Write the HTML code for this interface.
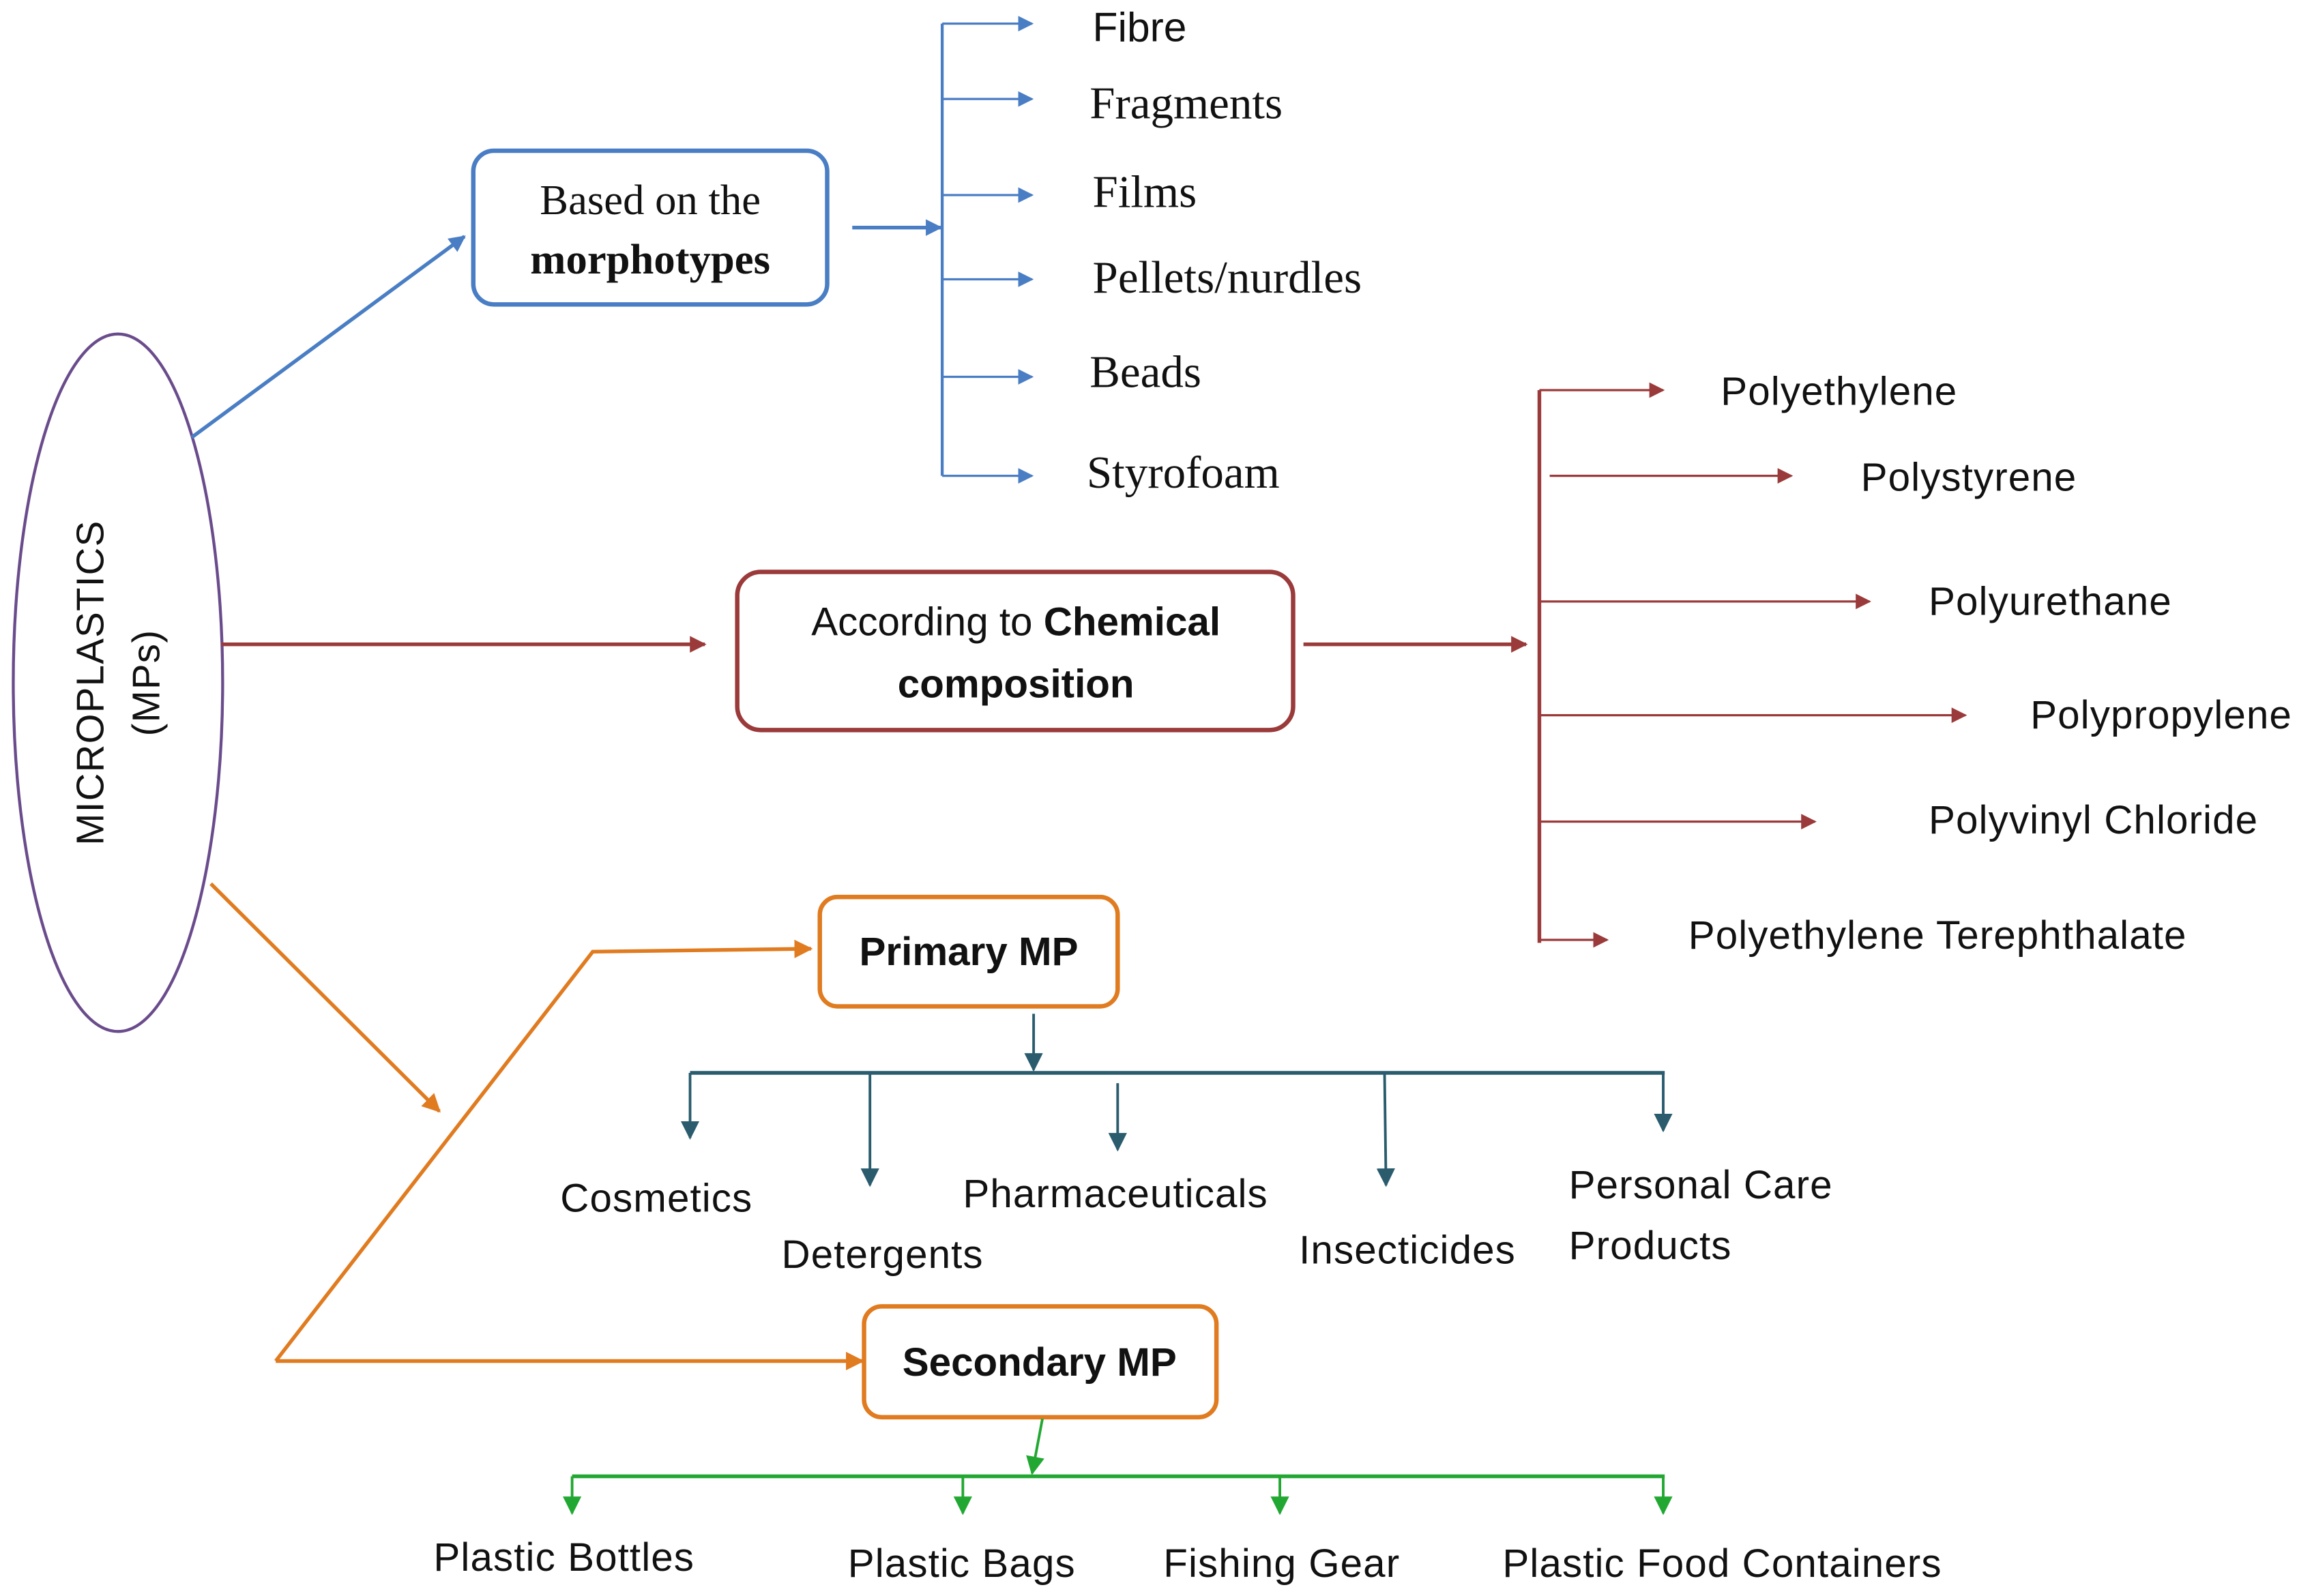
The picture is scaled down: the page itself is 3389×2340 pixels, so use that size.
<!DOCTYPE html>
<html><head><meta charset="utf-8"><style>html,body{margin:0;padding:0;background:#fff}svg{display:block}</style></head>
<body>
<svg width="3389" height="2340" viewBox="0 0 1568 1080" preserveAspectRatio="none" xmlns="http://www.w3.org/2000/svg">
<defs>
<marker id="ab" viewBox="0 0 10 10" refX="9" refY="5" markerWidth="4.5" markerHeight="4.5" orient="auto" markerUnits="strokeWidth"><path d="M0,0L10,5L0,10z" fill="#4a7ec4"/></marker>
<marker id="ab2" viewBox="0 0 10 10" refX="9" refY="5" markerWidth="7" markerHeight="7" orient="auto" markerUnits="strokeWidth"><path d="M0,0L10,5L0,10z" fill="#4a7ec4"/></marker>
<marker id="ar" viewBox="0 0 10 10" refX="9" refY="5" markerWidth="4.5" markerHeight="4.5" orient="auto" markerUnits="strokeWidth"><path d="M0,0L10,5L0,10z" fill="#9b3a3a"/></marker>
<marker id="ar2" viewBox="0 0 10 10" refX="9" refY="5" markerWidth="7" markerHeight="7" orient="auto" markerUnits="strokeWidth"><path d="M0,0L10,5L0,10z" fill="#9b3a3a"/></marker>
<marker id="ao" viewBox="0 0 10 10" refX="9" refY="5" markerWidth="5" markerHeight="5" orient="auto" markerUnits="strokeWidth"><path d="M0,0L10,5L0,10z" fill="#e07b20"/></marker>
<marker id="at" viewBox="0 0 10 10" refX="9" refY="5" markerWidth="7" markerHeight="7" orient="auto" markerUnits="strokeWidth"><path d="M0,0L10,5L0,10z" fill="#2a5c6e"/></marker>
<marker id="ag" viewBox="0 0 10 10" refX="9" refY="5" markerWidth="7" markerHeight="7" orient="auto" markerUnits="strokeWidth"><path d="M0,0L10,5L0,10z" fill="#22a832"/></marker>
</defs>
<g font-family="Liberation Sans, sans-serif" fill="#111">
<ellipse cx="80" cy="462" rx="71" ry="236" fill="none" stroke="#6a4c8c" stroke-width="2"/>
<g letter-spacing="0.6">
<text transform="translate(70,462) rotate(-90)" text-anchor="middle" font-size="26">MICROPLASTICS</text>
<text transform="translate(108,462) rotate(-90)" text-anchor="middle" font-size="26">(MPs)</text>
</g>

<!-- blue -->
<line x1="130" y1="296" x2="315" y2="160" stroke="#4a7ec4" stroke-width="2.5" marker-end="url(#ab)"/>
<rect x="321" y="102" width="240" height="104" rx="14" fill="none" stroke="#4a7ec4" stroke-width="3"/>
<text x="441" y="145" text-anchor="middle" font-family="Liberation Serif, serif" font-size="29">Based on the</text>
<text x="441" y="185" text-anchor="middle" font-family="Liberation Serif, serif" font-size="29" font-weight="bold">morphotypes</text>
<line x1="578" y1="154" x2="638" y2="154" stroke="#4a7ec4" stroke-width="2.5" marker-end="url(#ab)"/>
<line x1="639" y1="16" x2="639" y2="322" stroke="#4a7ec4" stroke-width="2"/>
<g stroke="#4a7ec4" stroke-width="1.5">
<line x1="639" y1="16" x2="700" y2="16" marker-end="url(#ab2)"/>
<line x1="639" y1="67" x2="700" y2="67" marker-end="url(#ab2)"/>
<line x1="639" y1="132" x2="700" y2="132" marker-end="url(#ab2)"/>
<line x1="639" y1="189" x2="700" y2="189" marker-end="url(#ab2)"/>
<line x1="639" y1="255" x2="700" y2="255" marker-end="url(#ab2)"/>
<line x1="639" y1="322" x2="700" y2="322" marker-end="url(#ab2)"/>
</g>
<text x="741" y="28" font-size="28">Fibre</text>
<g font-family="Liberation Serif, serif" font-size="31">
<text x="739" y="80">Fragments</text>
<text x="741" y="140">Films</text>
<text x="741" y="198">Pellets/nurdles</text>
<text x="739" y="262">Beads</text>
<text x="737" y="330">Styrofoam</text>
</g>

<!-- red -->
<line x1="150" y1="436" x2="478" y2="436" stroke="#9b3a3a" stroke-width="2.5" marker-end="url(#ar)"/>
<rect x="500" y="387" width="377" height="107" rx="16" fill="none" stroke="#9b3a3a" stroke-width="3"/>
<text x="689" y="430" text-anchor="middle" font-size="27">According to <tspan font-weight="bold">Chemical</tspan></text>
<text x="689" y="472" text-anchor="middle" font-size="27" font-weight="bold">composition</text>
<line x1="884" y1="436" x2="1035" y2="436" stroke="#9b3a3a" stroke-width="2.5" marker-end="url(#ar)"/>
<line x1="1044" y1="264" x2="1044" y2="638" stroke="#9b3a3a" stroke-width="2.5"/>
<g stroke="#9b3a3a" stroke-width="1.5">
<line x1="1044" y1="264" x2="1128" y2="264" marker-end="url(#ar2)"/>
<line x1="1051" y1="322" x2="1215" y2="322" marker-end="url(#ar2)"/>
<line x1="1044" y1="407" x2="1268" y2="407" marker-end="url(#ar2)"/>
<line x1="1044" y1="484" x2="1333" y2="484" marker-end="url(#ar2)"/>
<line x1="1044" y1="556" x2="1231" y2="556" marker-end="url(#ar2)"/>
<line x1="1044" y1="636" x2="1090" y2="636" marker-end="url(#ar2)"/>
</g>
<g font-size="27" letter-spacing="0.5">
<text x="1167" y="274">Polyethylene</text>
<text x="1262" y="332">Polystyrene</text>
<text x="1308" y="416">Polyurethane</text>
<text x="1377" y="493">Polypropylene</text>
<text x="1308" y="564">Polyvinyl Chloride</text>
<text x="1145" y="642">Polyethylene Terephthalate</text>
</g>

<!-- orange -->
<line x1="143" y1="598" x2="298" y2="752" stroke="#e07b20" stroke-width="2.5" marker-end="url(#ao)"/>
<polyline points="187,921 402,644 550,642" fill="none" stroke="#e07b20" stroke-width="2.5" marker-end="url(#ao)"/>
<line x1="187" y1="921" x2="585" y2="921" stroke="#e07b20" stroke-width="2.5" marker-end="url(#ao)"/>
<rect x="556" y="607" width="202" height="74" rx="12" fill="none" stroke="#e07b20" stroke-width="3"/>
<text x="657" y="653" text-anchor="middle" font-size="27" font-weight="bold">Primary MP</text>
<rect x="586" y="884" width="239" height="75" rx="12" fill="none" stroke="#e07b20" stroke-width="3"/>
<text x="705" y="931" text-anchor="middle" font-size="27" font-weight="bold">Secondary MP</text>

<!-- teal -->
<g stroke="#2a5c6e" stroke-width="1.8">
<line x1="701" y1="686" x2="701" y2="724" marker-end="url(#at)"/>
<line x1="468" y1="726" x2="1129" y2="726" stroke-width="2.5"/>
<line x1="468" y1="726" x2="468" y2="770" marker-end="url(#at)"/>
<line x1="590" y1="726" x2="590" y2="802" marker-end="url(#at)"/>
<line x1="758" y1="733" x2="758" y2="778" marker-end="url(#at)"/>
<line x1="939" y1="726" x2="940" y2="802" marker-end="url(#at)"/>
<line x1="1128" y1="726" x2="1128" y2="765" marker-end="url(#at)"/>
</g>
<g font-size="27" letter-spacing="0.5">
<text x="380" y="820">Cosmetics</text>
<text x="530" y="858">Detergents</text>
<text x="653" y="817">Pharmaceuticals</text>
<text x="881" y="855">Insecticides</text>
<text x="1064" y="811">Personal Care</text>
<text x="1064" y="852">Products</text>
</g>

<!-- green -->
<g stroke="#22a832" stroke-width="1.8">
<line x1="707" y1="960" x2="700" y2="997" marker-end="url(#ag)"/>
<line x1="388" y1="999" x2="1129" y2="999" stroke-width="2.5"/>
<line x1="388" y1="999" x2="388" y2="1024" marker-end="url(#ag)"/>
<line x1="653" y1="999" x2="653" y2="1024" marker-end="url(#ag)"/>
<line x1="868" y1="999" x2="868" y2="1024" marker-end="url(#ag)"/>
<line x1="1128" y1="999" x2="1128" y2="1024" marker-end="url(#ag)"/>
</g>
<g font-size="27" letter-spacing="0.5">
<text x="294" y="1063">Plastic Bottles</text>
<text x="575" y="1067">Plastic Bags</text>
<text x="789" y="1067">Fishing Gear</text>
<text x="1019" y="1067">Plastic Food Containers</text>
</g>
</g>
</svg>
</body></html>
